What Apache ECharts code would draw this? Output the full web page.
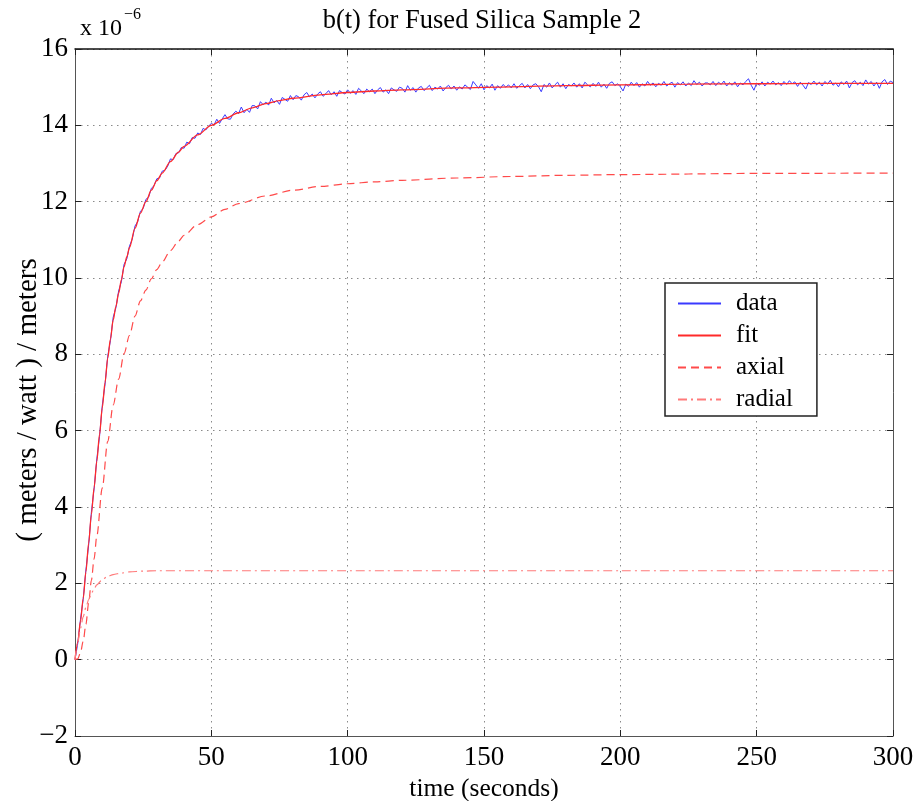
<!DOCTYPE html>
<html><head><meta charset="utf-8">
<script src="https://cdn.jsdelivr.net/npm/echarts@6/dist/echarts.min.js"></script>
<style>html,body{margin:0;padding:0;background:#fff}#c{width:916px;height:801px}</style>
</head><body><div id="c"></div>
<script>
// tick labels
const xTicks = [0, 50, 100, 150, 200, 250, 300];
const yTicks = [-2, 0, 2, 4, 6, 8, 10, 12, 14, 16];
// measured data, one sample per second from t = 0 s (units of 1e-6 (m/W)/m)
const dataStep = 1;
const dataValues = [
 0, 0.42, 1.05, 1.58, 2.35, 3.0, 3.86, 4.47, 5.26, 5.85,
 6.66, 7.2, 7.95, 8.36, 8.97, 9.22, 9.66, 9.9, 10.36, 10.5,
 10.84, 11.02, 11.36, 11.48, 11.75, 11.82, 12.06, 12.12, 12.35, 12.42,
 12.60, 12.62, 12.80, 12.82, 12.93, 13.12, 13.10, 13.26, 13.28, 13.42,
 13.40, 13.56, 13.52, 13.68, 13.66, 13.80, 13.76, 13.92, 13.88, 13.98,
 14.05, 14.01, 14.16, 14.05, 14.17, 14.28, 14.17, 14.16, 14.30, 14.37,
 14.31, 14.48, 14.33, 14.42, 14.34, 14.52, 14.51, 14.43, 14.62, 14.54,
 14.61, 14.53, 14.71, 14.59, 14.65, 14.55, 14.73, 14.68, 14.63, 14.78,
 14.67, 14.78, 14.75, 14.66, 14.80, 14.86, 14.75, 14.82, 14.72, 14.82,
 14.88, 14.76, 14.83, 14.91, 14.80, 14.88, 14.76, 14.91, 14.86, 14.82,
 14.93, 14.84, 14.91, 14.81, 14.97, 14.90, 14.83, 14.95, 14.88, 14.95,
 14.83, 14.93, 14.99, 14.87, 14.93, 14.83, 14.98, 14.93, 14.89, 15.00,
 14.97, 14.87, 15.04, 14.92, 14.99, 14.87, 14.98, 15.02, 14.91, 14.98,
 15.05, 14.91, 15.00, 14.95, 15.03, 14.90, 14.99, 15.05, 14.95, 15.03,
 14.92, 15.01, 14.95, 15.06, 15.00, 14.94, 15.15, 15.06, 14.97, 15.09,
 14.93, 15.04, 14.98, 15.08, 14.92, 15.04, 14.97, 15.07, 15.00, 15.06,
 14.98, 15.09, 14.97, 15.04, 15.10, 14.98, 15.07, 14.96, 15.06, 15.09,
 15.01, 14.88, 15.07, 15.00, 15.11, 14.98, 15.06, 15.13, 15.00, 15.09,
 14.96, 15.07, 15.03, 15.11, 15.00, 15.09, 14.98, 15.13, 15.06, 15.01,
 15.10, 15.02, 15.13, 15.00, 15.08, 14.97, 15.10, 15.14, 15.04, 15.09,
 15.01, 14.90, 15.08, 15.02, 15.13, 15.04, 15.12, 15.00, 15.09, 15.03,
 15.15, 15.05, 15.11, 15.01, 15.10, 15.05, 15.15, 15.03, 15.09, 15.13,
 15.00, 15.12, 15.06, 15.14, 15.03, 15.11, 15.04, 15.17, 15.07, 15.13,
 15.03, 15.11, 15.11, 15.06, 15.15, 15.04, 15.13, 15.07, 15.16, 15.03,
 15.12, 15.05, 15.14, 15.01, 15.11, 15.06, 15.15, 15.22, 15.05, 14.92,
 15.11, 15.05, 15.14, 15.03, 15.13, 15.08, 15.16, 15.06, 15.12, 15.04,
 15.15, 15.07, 15.17, 15.09, 15.14, 15.02, 15.13, 15.05, 14.95, 15.12,
 15.07, 15.16, 15.06, 15.13, 15.03, 15.15, 15.08, 15.18, 15.05, 15.11,
 15.01, 15.14, 15.07, 15.16, 14.98, 15.12, 15.17, 15.06, 15.13, 15.04,
 15.19, 15.08, 15.15, 15.03, 15.13, 14.97, 15.14, 15.20, 15.07, 15.16,
 15.12
];
// fit curve
const fitT = [0,1,2,3,4,5,6,7,8,9,10,11,12,13,14,15,16,17,18,19,20,22,24,26,28,30,32,35,38,40,45,50,55,60,65,70,75,80,90,100,110,120,140,160,180,200,225,250,275,300];
const fitV = [0,0.45,1.0,1.6,2.3,3.05,3.8,4.5,5.2,5.9,6.6,7.25,7.9,8.4,8.9,9.25,9.6,9.95,10.3,10.55,10.8,11.3,11.7,12.0,12.3,12.55,12.75,13.05,13.3,13.45,13.75,14.0,14.18,14.33,14.46,14.57,14.65,14.71,14.8,14.86,14.9,14.93,14.98,15.01,15.04,15.06,15.08,15.09,15.1,15.1];
// axial component
const axialT = [0,1,2,3,4,5,6,7,8,10,12,14,16,18,20,22,24,26,28,30,32,35,38,40,45,50,55,60,70,80,90,100,110,120,140,160,180,200,250,300];
const axialV = [0,0.02,0.18,0.48,0.93,1.48,2.07,2.64,3.24,4.5,5.72,6.67,7.35,8.02,8.5,9.0,9.4,9.68,9.98,10.22,10.42,10.72,10.97,11.12,11.4,11.6,11.8,11.95,12.15,12.3,12.4,12.47,12.52,12.56,12.62,12.66,12.69,12.71,12.74,12.75];
// radial component
const radialT = [0,1,2,3,4,5,6,7,8,10,12,14,17,20,25,30,50,100,200,300];
const radialV = [0,0.45,0.82,1.12,1.37,1.57,1.73,1.86,1.96,2.1,2.18,2.23,2.27,2.3,2.32,2.33,2.33,2.33,2.33,2.33];

const pairs = (t, v) => t.map((x, i) => [x, v[i]]);
const dataPts = dataValues.map((v, i) => [i * dataStep, v]);

const FONT = 'Liberation Serif';
const chart = echarts.init(document.getElementById('c'), null, {renderer: 'canvas'});
const yFmt = v => (v < 0 ? '\u2212' + (-v) : String(v));
const axisLineStyle = {color: '#555', width: 1};
const tick = {show: true, inside: true, length: 6, lineStyle: {color: '#222'}};
const split = {show: true, lineStyle: {color: '#8a8a8a', type: [1.5, 4.5], width: 1}};

chart.setOption({
  backgroundColor: '#fff',
  animation: false,
  title: {
    text: 'b(t) for Fused Silica Sample 2',
    left: 477, top: 3, textAlign: 'center',
    textStyle: {fontFamily: FONT, fontSize: 26.5, fontWeight: 'normal', color: '#000'}
  },
  graphic: [
    {type: 'text', left: 80, top: 17, style: {text: 'x 10', fontFamily: FONT, fontSize: 24, fill: '#000'}},
    {type: 'text', left: 124, top: 7, style: {text: '\u22126', fontFamily: FONT, fontSize: 16, fill: '#000'}},
    {type: 'text', x: 28, y: 400, rotation: Math.PI / 2,
     style: {text: '( meters / watt ) / meters', fontFamily: FONT, fontSize: 29, fill: '#000',
             align: 'center', verticalAlign: 'middle'}}
  ],
  grid: {left: 75, right: 23, top: 49, bottom: 65, show: false, outerBoundsMode: 'none', containLabel: false},
  legend: {
    orient: 'vertical',
    left: 665, top: 283,
    padding: [8, 24, 4, 12],
    backgroundColor: '#fff',
    borderColor: '#222', borderWidth: 1.5,
    itemWidth: 43, itemHeight: 14, itemGap: 7,
    itemStyle: {opacity: 0},
    textStyle: {fontFamily: FONT, fontSize: 25, color: '#000', lineHeight: 24, padding: [0, 0, 0, 10]},
    data: ['data', 'fit', 'axial', 'radial']
  },
  xAxis: [{
    type: 'value', min: xTicks[0], max: xTicks[xTicks.length - 1], interval: xTicks[1] - xTicks[0],
    name: 'time (seconds)', nameLocation: 'middle', nameGap: 36,
    nameTextStyle: {fontFamily: FONT, fontSize: 25.5, color: '#000'},
    axisLine: {show: true, onZero: false, lineStyle: axisLineStyle},
    axisTick: tick, splitLine: split,
    axisLabel: {fontFamily: FONT, fontSize: 27, color: '#000', margin: 8}
  }, {
    type: 'value', position: 'top', min: xTicks[0], max: xTicks[xTicks.length - 1], interval: xTicks[1] - xTicks[0],
    axisLine: {show: true, onZero: false, lineStyle: {color: '#111', width: 1.5}},
    axisTick: tick, splitLine: {show: false}, axisLabel: {show: false}
  }],
  yAxis: [{
    type: 'value', min: yTicks[0], max: yTicks[yTicks.length - 1], interval: yTicks[1] - yTicks[0],
    axisLine: {show: true, onZero: false, lineStyle: axisLineStyle},
    axisTick: tick, splitLine: split,
    axisLabel: {fontFamily: FONT, fontSize: 27, color: '#000', margin: 7, formatter: yFmt}
  }, {
    type: 'value', position: 'right', min: yTicks[0], max: yTicks[yTicks.length - 1], interval: yTicks[1] - yTicks[0],
    axisLine: {show: true, onZero: false, lineStyle: axisLineStyle},
    axisTick: tick, splitLine: {show: false}, axisLabel: {show: false}
  }],
  series: [
    {name: 'data', type: 'line', data: dataPts, symbol: 'none', smooth: false,
     lineStyle: {color: '#3a3aff', width: 1}, itemStyle: {color: '#3a3aff'}, z: 2},
    {name: 'fit', type: 'line', data: pairs(fitT, fitV), symbol: 'none', smooth: 0.3, smoothMonotone: 'x',
     lineStyle: {color: '#ff2a2a', width: 1.3}, itemStyle: {color: '#ff2a2a'}, z: 3},
    {name: 'axial', type: 'line', data: pairs(axialT, axialV), symbol: 'none', smooth: 0.3, smoothMonotone: 'x',
     lineStyle: {color: '#ff4a4a', width: 1.2, type: [8, 5]}, itemStyle: {color: '#ff4a4a'}, z: 3},
    {name: 'radial', type: 'line', data: pairs(radialT, radialV), symbol: 'none', smooth: 0.3, smoothMonotone: 'x',
     lineStyle: {color: '#ff7a7a', width: 1.2, type: [9, 4, 2, 4]}, itemStyle: {color: '#ff7a7a'}, z: 3}
  ]
});
</script>
</body></html>
